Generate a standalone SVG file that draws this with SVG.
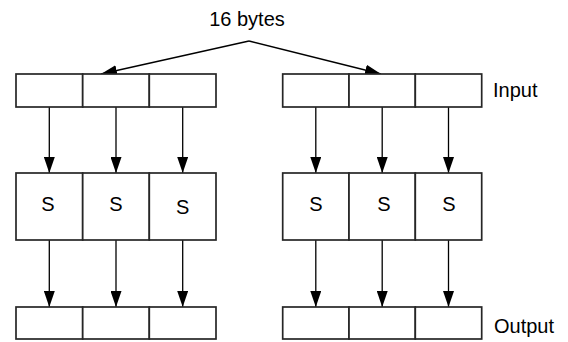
<svg xmlns="http://www.w3.org/2000/svg" width="568" height="342" viewBox="0 0 568 342">
<style>
  .cell { fill: #ffffff; stroke: #262626; stroke-width: 1.7; }
  .lbl { font-family: "Liberation Sans", Arial, sans-serif; font-size: 20px; fill: #000000; }
  .s { text-anchor: middle; }
  .conn { stroke: #000000; stroke-width: 1.3; fill: none; marker-end: url(#ah); }
</style>
<defs>
  <marker id="ah" markerUnits="userSpaceOnUse" markerWidth="16" markerHeight="11" refX="16" refY="5.5" orient="auto">
    <path d="M0,0 L16,5.5 L0,11 z" fill="#000000"/>
  </marker>
</defs>
<rect width="568" height="342" fill="#ffffff"/>

<g id="connectors">
  <path class="conn" d="M249,41 L101,74"/>
  <path class="conn" d="M249,41 L381,74"/>
  <path class="conn" d="M49.3,107 L49.3,173"/>
  <path class="conn" d="M116,107 L116,173"/>
  <path class="conn" d="M182.7,107 L182.7,173"/>
  <path class="conn" d="M315.8,107 L315.8,173"/>
  <path class="conn" d="M382.2,107 L382.2,173"/>
  <path class="conn" d="M448.5,107 L448.5,173"/>
  <path class="conn" d="M49.3,240 L49.3,307"/>
  <path class="conn" d="M116,240 L116,307"/>
  <path class="conn" d="M182.7,240 L182.7,307"/>
  <path class="conn" d="M315.8,240 L315.8,307"/>
  <path class="conn" d="M382.2,240 L382.2,307"/>
  <path class="conn" d="M448.5,240 L448.5,307"/>
</g>

<g id="label-16bytes"><text class="lbl s" x="247" y="26">16 bytes</text></g>

<g id="input-left">
  <rect class="cell" x="16" y="74" width="66.7" height="33"/>
  <rect class="cell" x="82.7" y="74" width="66.6" height="33"/>
  <rect class="cell" x="149.3" y="74" width="66.7" height="33"/>
</g>
<g id="input-right">
  <rect class="cell" x="282.7" y="74" width="66.3" height="33"/>
  <rect class="cell" x="349" y="74" width="66.3" height="33"/>
  <rect class="cell" x="415.3" y="74" width="66.4" height="33"/>
</g>
<g id="label-input"><text class="lbl" x="493" y="97">Input</text></g>

<g id="sbox-left">
  <rect class="cell" x="16" y="173" width="66.7" height="67"/>
  <rect class="cell" x="82.7" y="173" width="66.6" height="67"/>
  <rect class="cell" x="149.3" y="173" width="66.7" height="67"/>
  <text class="lbl s" x="48" y="211">S</text>
  <text class="lbl s" x="116" y="211">S</text>
  <text class="lbl s" x="182.7" y="214">S</text>
</g>
<g id="sbox-right">
  <rect class="cell" x="282.7" y="173" width="66.3" height="67"/>
  <rect class="cell" x="349" y="173" width="66.3" height="67"/>
  <rect class="cell" x="415.3" y="173" width="66.4" height="67"/>
  <text class="lbl s" x="316" y="211">S</text>
  <text class="lbl s" x="384" y="211">S</text>
  <text class="lbl s" x="449" y="211">S</text>
</g>

<g id="output-left">
  <rect class="cell" x="16" y="307" width="66.7" height="32"/>
  <rect class="cell" x="82.7" y="307" width="66.6" height="32"/>
  <rect class="cell" x="149.3" y="307" width="66.7" height="32"/>
</g>
<g id="output-right">
  <rect class="cell" x="282.7" y="307" width="66.3" height="32"/>
  <rect class="cell" x="349" y="307" width="66.3" height="32"/>
  <rect class="cell" x="415.3" y="307" width="66.4" height="32"/>
</g>
<g id="label-output"><text class="lbl" x="494" y="333">Output</text></g>
</svg>
